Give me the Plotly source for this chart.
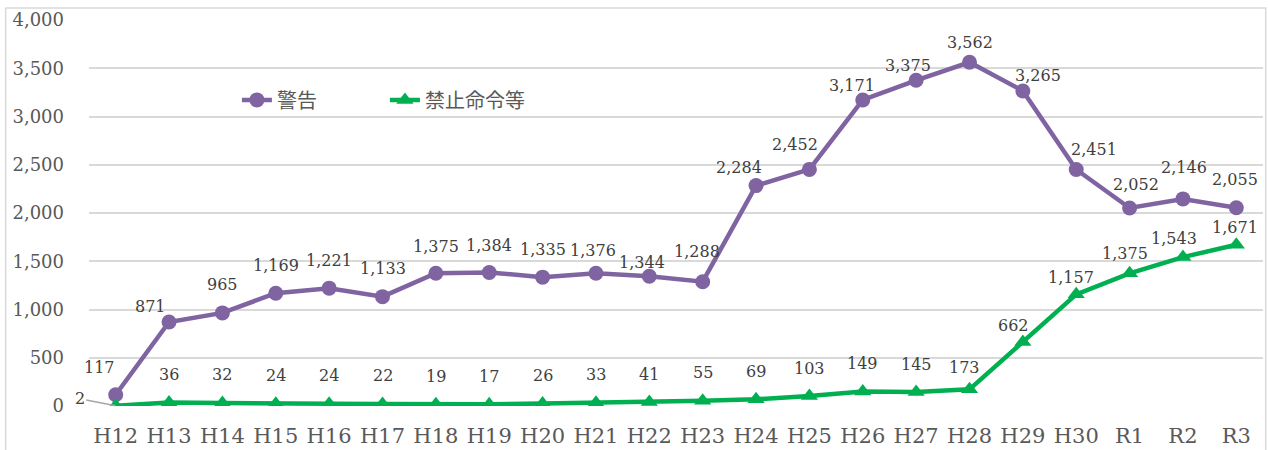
import plotly.graph_objects as go

categories = ["H12", "H13", "H14", "H15", "H16", "H17", "H18", "H19", "H20", "H21", "H22",
              "H23", "H24", "H25", "H26", "H27", "H28", "H29", "H30", "R1", "R2", "R3"]
keikoku = [117, 871, 965, 1169, 1221, 1133, 1375, 1384, 1335, 1376, 1344,
           1288, 2284, 2452, 3171, 3375, 3562, 3265, 2451, 2052, 2146, 2055]
kinshi = [2, 36, 32, 24, 24, 22, 19, 17, 26, 33, 41,
          55, 69, 103, 149, 145, 173, 662, 1157, 1375, 1543, 1671]
y_ticks = [0, 500, 1000, 1500, 2000, 2500, 3000, 3500, 4000]

# label offsets (pixels, from point) -- presentation only
kei_dx = [-16, -19, 0, 0, 0, 0, 0, 0, 0, -3, -7, -6, -17, -14, -11, -8, 0, 15, 18, 6, 1, -1]
kei_dy = [27, 15, 28, 28, 28, 28, 27, 27, 28, 23, 14, 30, 18, 25, 15, 15, 20, 15, 20, 23, 31, 28]
kin_dx = [0, 0, 0, 0, 0, 0, 0, 0, 0, 0, 0, 0, 0, 0, 0, 0, -5, -9, -5, -5, -9, -1]
kin_dy = [0, 28, 28, 28, 28, 28, 28, 28, 28, 28, 28, 28, 28, 28, 28, 28, 22, 17, 17, 20, 19, 17]

PURPLE = "#8064A2"
GREEN = "#00B050"
GRID = "#D9D9D9"
TXT = "#404040"
SERIF = "DejaVu Serif"
SANS = "Noto Sans CJK JP"

fig = go.Figure()
fig.add_trace(go.Scatter(
    x=categories, y=keikoku, name="警告", mode="lines+markers",
    line=dict(color=PURPLE, width=4.5),
    marker=dict(symbol="circle", size=15, color=PURPLE),
))
fig.add_trace(go.Scatter(
    x=categories, y=kinshi, name="禁止命令等", mode="lines+markers",
    line=dict(color=GREEN, width=4.5),
    marker=dict(symbol="triangle-up", size=15, color=GREEN),
))

annotations = []
lab_font = dict(family=SERIF, size=16, color=TXT)
for i, (c, v) in enumerate(zip(categories, keikoku)):
    annotations.append(dict(x=c, y=v, text=f"{v:,}", showarrow=False,
                            xshift=kei_dx[i], yshift=kei_dy[i], font=lab_font))
for i, (c, v) in enumerate(zip(categories, kinshi)):
    if i == 0:
        annotations.append(dict(x=c, y=v, text=f"{v:,}", showarrow=True,
                                ax=-36, ay=-7, arrowhead=0, arrowwidth=1.5,
                                arrowcolor="#A6A6A6", standoff=0, font=lab_font))
    else:
        annotations.append(dict(x=c, y=v, text=f"{v:,}", showarrow=False,
                                xshift=kin_dx[i], yshift=kin_dy[i], font=lab_font))

fig.update_layout(
    width=1268, height=450,
    margin=dict(l=89, r=5, t=20, b=44, autoexpand=False),
    paper_bgcolor="white", plot_bgcolor="white",
    showlegend=True,
    legend=dict(orientation="h", x=0.126, y=0.793, xanchor="left", yanchor="middle",
                font=dict(family=SANS, size=20, color="#595959"),
                bgcolor="rgba(0,0,0,0)", entrywidth=103, entrywidthmode="pixels"),
    annotations=annotations,
    xaxis=dict(type="category", range=[-0.5, 21.5], showgrid=False, showline=False,
               zeroline=False, ticks="", ticklabelstandoff=15, automargin=False,
               tickfont=dict(family=SERIF, size=21, color="#595959")),
    yaxis=dict(range=[0, 4000], tickvals=y_ticks, ticktext=[f"{t:,}" for t in y_ticks],
               showgrid=True, gridcolor=GRID, gridwidth=1.5, zeroline=False,
               showline=False, ticks="", ticklabelstandoff=24, automargin=False,
               tickfont=dict(family=SERIF, size=18, color="#595959")),
    shapes=[dict(type="rect", xref="paper", yref="paper",
                 x0=-0.0710, x1=1.0023, y0=-0.3, y1=1.031,
                 line=dict(color=GRID, width=1.5), layer="below")],
)

fig.write_html("out.html", config={"displayModeBar": False},
               post_script="document.body.style.margin='0';document.body.style.overflow='hidden';")
